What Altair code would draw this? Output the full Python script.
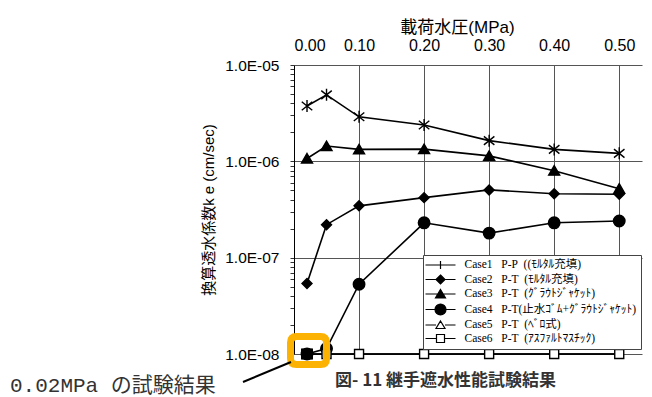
import altair as alt
import pandas as pd

# ---- data ----
pressure = [0.02, 0.05, 0.10, 0.20, 0.30, 0.40, 0.50]
case1 = [3.75e-6, 4.9e-6, 2.9e-6, 2.38e-6, 1.64e-6, 1.33e-6, 1.21e-6]
case2 = [5.4e-8, 2.2e-7, 3.45e-7, 4.2e-7, 5.05e-7, 4.6e-7, 4.55e-7]
case3 = [1.07e-6, 1.44e-6, 1.33e-6, 1.34e-6, 1.14e-6, 8.0e-7, 5.2e-7]
case4 = [1.0e-8, 1.14e-8, 5.3e-8, 2.3e-7, 1.8e-7, 2.3e-7, 2.4e-7]
case5 = [1.0e-8, 1.0e-8, 1.0e-8, 1.0e-8, 1.0e-8, 1.0e-8, 1.0e-8]
case6 = [1.0e-8, 1.0e-8, 1.0e-8, 1.0e-8, 1.0e-8, 1.0e-8, 1.0e-8]

case_labels = [
    "Case1\u00a0\u00a0\u00a0P-P\u00a0\u00a0((ﾓﾙﾀﾙ充填)",
    "Case2\u00a0\u00a0\u00a0P-T\u00a0\u00a0(ﾓﾙﾀﾙ充填)",
    "Case3\u00a0\u00a0\u00a0P-T\u00a0\u00a0(ｸﾞﾗｳﾄｼﾞｬｹｯﾄ)",
    "Case4\u00a0\u00a0\u00a0P-T(止水ｺﾞﾑ+ｸﾞﾗｳﾄｼﾞｬｹｯﾄ)",
    "Case5\u00a0\u00a0\u00a0P-T\u00a0\u00a0(ﾍﾞﾛ式)",
    "Case6\u00a0\u00a0\u00a0P-T\u00a0\u00a0(ｱｽﾌｧﾙﾄﾏｽﾁｯｸ)",
]
series = [case1, case2, case3, case4, case5, case6]

highlight_x = [0.02]
highlight_y = [1.0e-8]

x_ticks = [0.0, 0.1, 0.2, 0.3, 0.4, 0.5]
y_ticks = [1e-8, 2e-8, 3e-8, 4e-8, 5e-8, 6e-8, 7e-8, 8e-8, 9e-8,
           1e-7, 2e-7, 3e-7, 4e-7, 5e-7, 6e-7, 7e-7, 8e-7, 9e-7,
           1e-6, 2e-6, 3e-6, 4e-6, 5e-6, 6e-6, 7e-6, 8e-6, 9e-6, 1e-5]

x_title = "載荷水圧(MPa)"
y_title = "換算透水係数k e (cm/sec)"
caption = "図- 11 継手遮水性能試験結果"
note = "0.02MPa の試験結果"

# ---- build table ----
rows = []
for lab, vals in zip(case_labels, series):
    for p, v in zip(pressure, vals):
        rows.append({"case": lab, "p": p, "k": v})
df = pd.DataFrame(rows)
hl = pd.DataFrame({"p": highlight_x, "k": highlight_y})

# ---- marker shapes ----
plot_shapes = [
    "M0,-1.2V1.2M-1.05,-0.85L1.05,0.85M-1.05,0.85L1.05,-0.85",
    "M0,-1L1,0L0,1L-1,0Z",
    "M0,-1L1.1,0.9L-1.1,0.9Z",
    "M1.15,0A1.15,1.15 0 1 1 -1.15,0A1.15,1.15 0 1 1 1.15,0Z",
    "M0,-0.6L0.65,0.5L-0.65,0.5Z",
    "M-0.9,-0.9H0.9V0.9H-0.9Z",
]
legend_shapes = [
    "M-3,0H3M0,-0.8V0.8",
    "M-3,0H3M0,-0.9L0.9,0L0,0.9L-0.9,0Z",
    "M-3,0H3M0,-0.9L1,0.8L-1,0.8Z",
    "M-3,0H3M1.1,0A1.1,1.1 0 1 1 -1.1,0A1.1,1.1 0 1 1 1.1,0Z",
    "M-3,0H-0.9M0.9,0H3M0,-0.8L0.9,0.7L-0.9,0.7Z",
    "M-3,0H-0.8M0.8,0H3M-0.8,-0.8H0.8V0.8H-0.8Z",
]
fills = ["black", "black", "black", "black", "white", "white"]
strokes = ["black", "black", "black", "black", "black", "black"]
box_path = ("M-0.667,-0.778H0.667Q1,-0.778 1,-0.444V0.444Q1,0.778 0.667,0.778"
            "H-0.667Q-1,0.778 -1,0.444V-0.444Q-1,-0.778 -0.667,-0.778Z")
square_path = "M-1.2,-1.1H1.2V1.1H-1.2Z"

FONT = "Liberation Sans, Noto Sans CJK JP"
decade = "abs(log(datum.value)/LN10 - round(log(datum.value)/LN10)) < 0.001"

x_enc = alt.X(
    "p:Q",
    scale=alt.Scale(domain=[0, 0.535], nice=False, zero=False),
    axis=alt.Axis(
        orient="top", values=x_ticks, format=".2f", grid=True, gridColor="#555",
        gridOpacity={"condition": {"test": "datum.value > 0.001", "value": 1}, "value": 0},
        ticks=False, tickSize=0, domain=False, labelFontSize=16, labelPadding=12,
        labelColor="black", labelFont=FONT, title=x_title, titleFont=FONT,
        titleFontSize=17, titleFontWeight="normal", titleColor="black",
        titleX=163, titleY=-33, titleAlign="center", titleBaseline="alphabetic",
    ),
)
y_enc = alt.Y(
    "k:Q",
    scale=alt.Scale(type="log", domain=[1e-8, 1e-5], nice=False),
    axis=alt.Axis(
        values=y_ticks, grid=True, gridColor="#555",
        gridOpacity={"condition": {"test": decade, "value": 1}, "value": 0},
        labelExpr=decade + " ? '1.0E-0' + (-round(log(datum.value)/LN10)) : ''",
        tickSize=4, tickColor="#333", domainColor="black", labelPadding=11,
        labelFontSize=15.5, labelFont=FONT, labelColor="black",
        title=y_title, titleFont=FONT, titleFontSize=15, titleFontWeight="normal",
        titleColor="black", titleX=-86, titleY=144.5, titleAngle=270,
        titleAlign="center", titleBaseline="middle",
    ),
)

base = alt.Chart(df)
lines = base.mark_line(color="black", strokeWidth=1.6).encode(x=x_enc, y=y_enc, detail="case:N")
points = base.mark_point(opacity=1, stroke="black", strokeWidth=1.4, size=100).encode(
    x=x_enc, y=y_enc,
    shape=alt.Shape("case:N", scale=alt.Scale(domain=case_labels, range=plot_shapes), legend=None),
    fill=alt.Fill("case:N", scale=alt.Scale(domain=case_labels, range=fills), legend=None),
)
hl_square = alt.Chart(hl).mark_point(shape=square_path, filled=True, fill="black", opacity=1,
                                     size=100, strokeWidth=0).encode(x=x_enc, y=y_enc)
hl_box = alt.Chart(hl).mark_point(shape=box_path, size=1296, stroke="#FBB203", strokeWidth=7,
                                  opacity=1, xOffset=1.5, yOffset=-3.5).encode(x=x_enc, y=y_enc)

leg = alt.Legend(
    title=None, orient="none", legendX=129, legendY=190, padding=4,
    symbolSize=100, symbolOffset=7.5, labelOffset=18, rowPadding=0.5,
    labelFont="Liberation Serif, Noto Sans CJK JP", labelFontSize=11.5, labelColor="black",
    labelLimit=400, fillColor="white", strokeColor="#444", symbolStrokeWidth=1.2,
    symbolStrokeColor="black",
)
legend_layer = alt.Chart(df).transform_filter("false").mark_point(
    opacity=1, strokeWidth=1.2).encode(
    shape=alt.Shape("case:N", scale=alt.Scale(domain=case_labels, range=legend_shapes), legend=leg),
    fill=alt.Fill("case:N", scale=alt.Scale(domain=case_labels, range=fills), legend=leg),
    stroke=alt.Stroke("case:N", scale=alt.Scale(domain=case_labels, range=strokes), legend=leg),
)

one = pd.DataFrame({"a": [0]})
caption_layer = alt.Chart(one).mark_text(
    text=caption, font="Noto Sans CJK JP", fontSize=17, fontWeight="bold", color="#333",
    align="left", baseline="alphabetic").encode(x=alt.value(41), y=alt.value(321))
note_layer = alt.Chart(one).mark_text(
    text=note, font="Liberation Mono, Noto Sans CJK JP", fontSize=21, color="#333",
    align="left", baseline="alphabetic").encode(x=alt.value(-284), y=alt.value(327))
arrow = alt.Chart(one).mark_rule(color="black", strokeWidth=2).encode(
    x=alt.value(-51), y=alt.value(317), x2=alt.value(-3), y2=alt.value(297))

chart = alt.layer(
    lines, points, hl_square, hl_box, legend_layer, caption_layer, note_layer, arrow
).resolve_scale(shape="independent", fill="independent", stroke="independent").properties(
    width=348, height=289,
    autosize=alt.AutoSizeParams(type="none"),
    padding={"left": 286, "top": 57, "right": 2, "bottom": 43},
    background="white",
).configure_view(stroke=None)

chart.save("out.html", embed_options={"renderer": "svg", "actions": False})
